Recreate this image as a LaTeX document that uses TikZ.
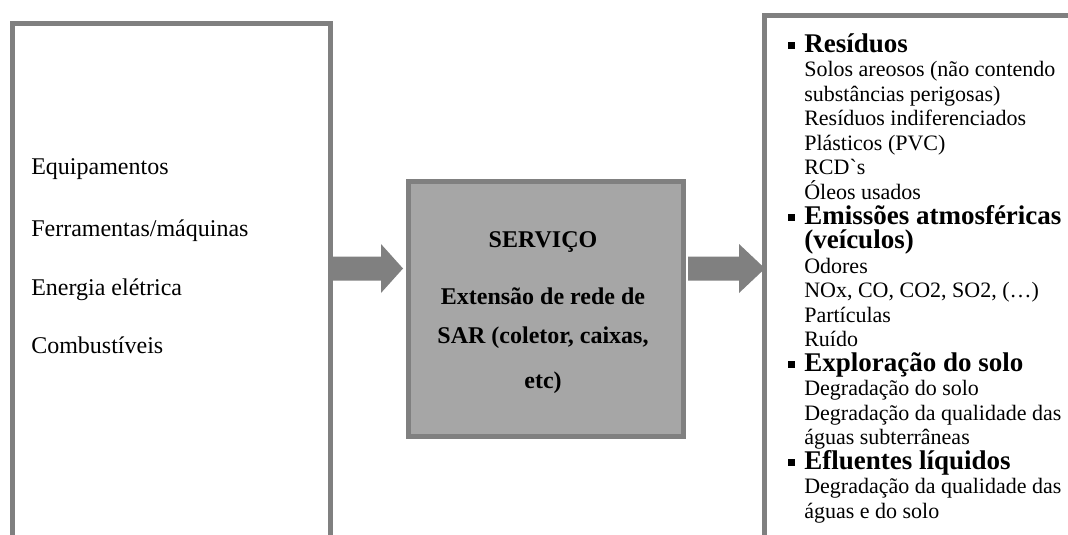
\documentclass[tikz,border=0pt]{standalone}
\usepackage{fontspec}
\setmainfont{Liberation Serif}
\usetikzlibrary{calc}
\definecolor{bordergray}{HTML}{808080}
\definecolor{boxgray}{HTML}{A6A6A6}
\tikzset{
  frame/.style={draw=bordergray, line width=3.75pt, anchor=north west, inner sep=0},
  lefttext/.style={anchor=base west, inner sep=0, font=\fontsize{18}{20}\selectfont},
  midtext/.style={anchor=base, inner sep=0, font=\bfseries\fontsize{18}{20}\selectfont},
  bodytext/.style={anchor=base west, inner sep=0, font=\fontsize{16.5}{18}\selectfont},
  headtext/.style={anchor=base west, inner sep=0, font=\bfseries\fontsize{20.25}{22}\selectfont},
  bulletsq/.style={fill=black, inner sep=0, minimum size=5.25pt},
  bigarrow/.style={fill=bordergray}
}
\begin{document}
\begin{tikzpicture}[x=0.75pt,y=-0.75pt]
\useasboundingbox (0,0) rectangle (1068,535);
\clip (0,0) rectangle (1068,535);
\fill[white] (0,0) rectangle (1068,535);

% boxes
\node[frame, minimum width=238.5pt, minimum height=420pt] (inbox) at (9.5,21.5) {};
\node[frame, fill=boxgray, minimum width=206.25pt, minimum height=191.6pt] (mid) at (405.5,179) {};
\node[frame, minimum width=260pt, minimum height=420pt] (outbox) at (761.5,13.5) {};

% arrows
\coordinate (ay) at (0,268.5);
\coordinate (a1s) at (inbox.east |- ay);
\coordinate (a1e) at (mid.west |- ay);
\coordinate (a2s) at (mid.east |- ay);
\coordinate (a2e) at (outbox.west |- ay);
\fill[bigarrow] ($(a1s)+(-2,-12)$) -- ($(a1e)+(-24.5,-12)$) -- ($(a1e)+(-24.5,-24.5)$)
  -- ($(a1e)+(-2.5,0)$) -- ($(a1e)+(-24.5,24.5)$) -- ($(a1e)+(-24.5,12)$)
  -- ($(a1s)+(-2,12)$) -- cycle;
\fill[bigarrow] ($(a2s)+(2.5,-12)$) -- ($(a2e)+(-22.5,-12)$) -- ($(a2e)+(-22.5,-24.5)$)
  -- ($(a2e)+(3.5,0)$) -- ($(a2e)+(-22.5,24.5)$) -- ($(a2e)+(-22.5,12)$)
  -- ($(a2s)+(2.5,12)$) -- cycle;

% left texts
\node[lefttext] (l1) at (31,174) {Equipamentos};
\node[lefttext] (l2) at (31,236) {Ferramentas/máquinas};
\node[lefttext] (l3) at (31,295) {Energia elétrica};
\node[lefttext] (l4) at (31,353) {Combustíveis};

% middle texts
\node[midtext] (m1) at (543,247) {SERVIÇO};
\node[midtext] (m2) at (543,304) {Extensão de rede de};
\node[midtext] (m3) at (543,343) {SAR (coletor, caixas,};
\node[midtext] (m4) at (543,388) {etc)};

% right texts
\def\rb#1{52.5+24.5*#1}
\node[bulletsq] (b1) at (791, {\rb{0}-7}) {};
\node[headtext] (r0) at (804,{\rb{0}}) {Resíduos};
\node[bodytext] (r1) at (804,{\rb{1}}) {Solos areosos (não contendo};
\node[bodytext] (r2) at (804,{\rb{2}}) {substâncias perigosas)};
\node[bodytext] (r3) at (804,{\rb{3}}) {Resíduos indiferenciados};
\node[bodytext] (r4) at (804,{\rb{4}}) {Plásticos (PVC)};
\node[bodytext] (r5) at (804,{\rb{5}}) {RCD\textasciigrave s};
\node[bodytext] (r6) at (804,{\rb{6}}) {Óleos usados};
\node[bulletsq] (b2) at (791, {\rb{7}-7}) {};
\node[headtext] (r7) at (804,{\rb{7}}) {Emissões atmosféricas};
\node[headtext] (r8) at (804,{\rb{8}}) {(veículos)};
\node[bodytext] (r9) at (804,{\rb{9}}) {Odores};
\node[bodytext] (r10) at (804,{\rb{10}}) {NOx, CO, CO2, SO2, (…)};
\node[bodytext] (r11) at (804,{\rb{11}}) {Partículas};
\node[bodytext] (r12) at (804,{\rb{12}}) {Ruído};
\node[bulletsq] (b3) at (791, {\rb{13}-7}) {};
\node[headtext] (r13) at (804,{\rb{13}}) {Exploração do solo};
\node[bodytext] (r14) at (804,{\rb{14}}) {Degradação do solo};
\node[bodytext] (r15) at (804,{\rb{15}}) {Degradação da qualidade das};
\node[bodytext] (r16) at (804,{\rb{16}}) {águas subterrâneas};
\node[bulletsq] (b4) at (791, {\rb{17}-7}) {};
\node[headtext] (r17) at (804,{\rb{17}}) {Efluentes líquidos};
\node[bodytext] (r18) at (804,{\rb{18}}) {Degradação da qualidade das};
\node[bodytext] (r19) at (804,{\rb{19}}) {águas e do solo};
\end{tikzpicture}
\end{document}
